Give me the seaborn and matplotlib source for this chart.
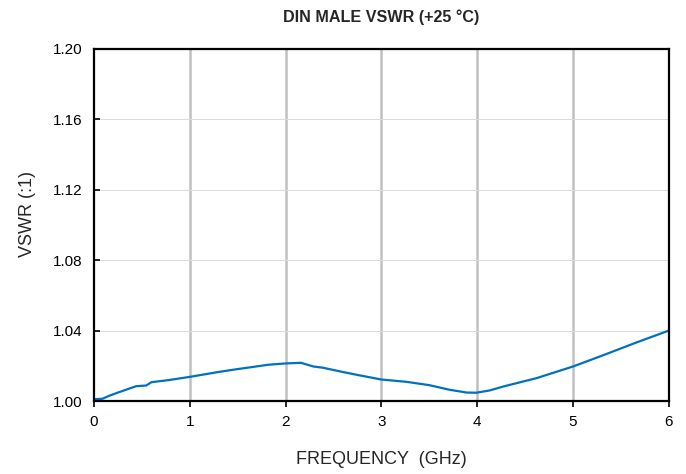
import pandas as pd
import matplotlib.pyplot as plt
import seaborn as sns

# ===== estilo =====
sns.set_theme(style="white")
plt.rcParams['font.family'] = ['Liberation Sans', 'DejaVu Sans']

# ===== dados =====
freq_ghz = [0.0, 0.09, 0.16, 0.25, 0.35, 0.44, 0.545, 0.6, 0.77, 1.0, 1.29, 1.47,
            1.64, 1.82, 1.99, 2.16, 2.29, 2.39, 2.56, 2.74, 3.0, 3.26, 3.5, 3.71,
            3.89, 3.99, 4.13, 4.27, 4.62, 5.0, 5.31, 5.66, 6.0]
vswr = [1.0010, 1.0013, 1.0030, 1.0048, 1.0067, 1.0084, 1.0088, 1.0107, 1.0118,
        1.0137, 1.0164, 1.0179, 1.0192, 1.0206, 1.0213, 1.0217, 1.0196, 1.0189,
        1.0169, 1.0149, 1.0122, 1.0109, 1.0090, 1.0064, 1.0048, 1.0047, 1.0060,
        1.0082, 1.0130, 1.0196, 1.0259, 1.0332, 1.0400]
y_ticks = [1.00, 1.04, 1.08, 1.12, 1.16, 1.20]
x_ticks = [0, 1, 2, 3, 4, 5, 6]

df = pd.DataFrame({"freq": freq_ghz, "vswr": vswr})

fig, ax = plt.subplots(figsize=(6.86, 4.74), dpi=100)
fig.subplots_adjust(left=0.137, right=0.975, top=0.897, bottom=0.154)

sns.lineplot(data=df, x="freq", y="vswr", color="#0070C0", linewidth=1.6, ax=ax)

ax.set_xlim(0, 6)
ax.set_ylim(1.00, 1.20)
ax.set_xticks(x_ticks)
ax.set_yticks(y_ticks)
ax.set_yticklabels([f"{v:.2f}" for v in y_ticks])

# grade: verticais mais grossas, horizontais finas
for xv in x_ticks[1:-1]:
    ax.axvline(xv, color="#c0c0c0", linewidth=1.8, zorder=0)
for yv in y_ticks[1:-1]:
    ax.axhline(yv, color="#dadada", linewidth=0.7, zorder=0)

for s in ax.spines.values():
    s.set_color("black")
    s.set_linewidth(1.6)

ax.tick_params(axis="y", direction="in", length=4, width=1.2, colors="black",
               labelsize=11, pad=8)
ax.tick_params(axis="x", direction="out", length=4, width=1.2, colors="black",
               labelsize=11, pad=6)
ax.tick_params(left=True, bottom=True)

ax.set_title("DIN MALE VSWR (+25 °C)", fontsize=11.6, fontweight="bold", pad=19)
ax.set_xlabel("FREQUENCY  (GHz)", fontsize=13, labelpad=16)
ax.set_ylabel("VSWR (:1)", fontsize=13, labelpad=12)
ax.yaxis.set_label_coords(-0.1, 0.53)

plt.savefig("out.png", dpi=100)
plt.close()
